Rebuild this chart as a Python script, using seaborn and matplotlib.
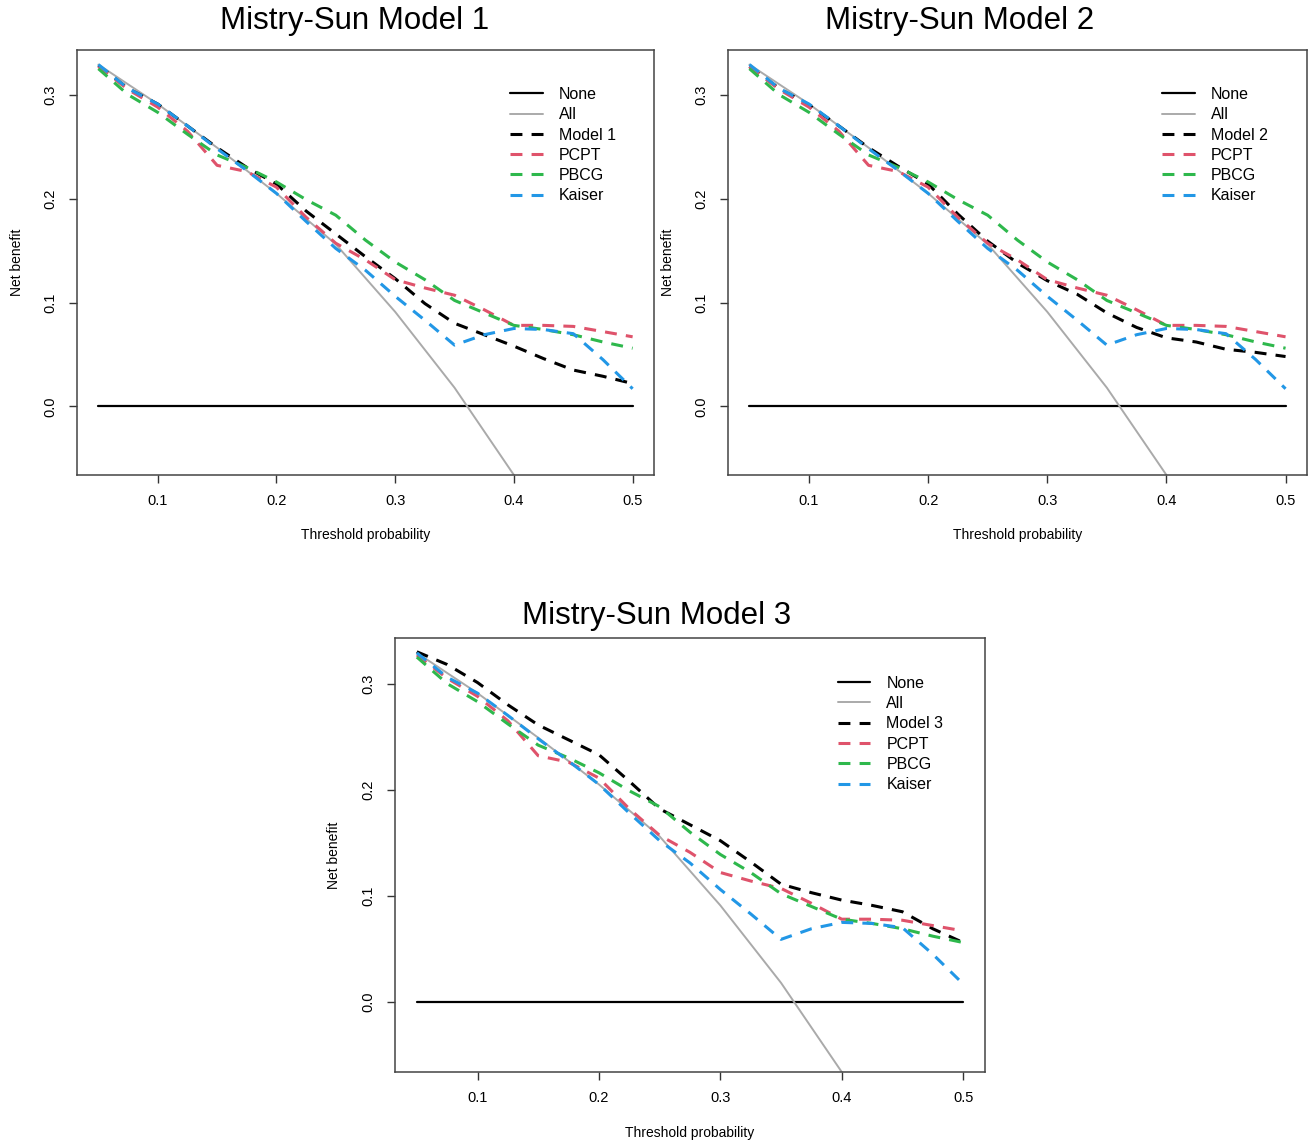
import matplotlib
matplotlib.use("Agg")
import matplotlib.pyplot as plt
import seaborn as sns

sns.set_style("ticks")
plt.rcParams["font.family"] = ["Liberation Sans", "DejaVu Sans"]
plt.rcParams["text.color"] = "black"
plt.rcParams["axes.labelcolor"] = "black"
plt.rcParams["xtick.color"] = "black"
plt.rcParams["ytick.color"] = "black"

# threshold grid used by the model curves
thresholds = [0.05, 0.075, 0.1, 0.125, 0.15, 0.175, 0.2, 0.225, 0.25, 0.275,
              0.3, 0.325, 0.35, 0.375, 0.4, 0.425, 0.45, 0.475, 0.5]
none_nb = [0.0] * len(thresholds)

# treat-all curve (coarser grid)
all_thresholds = [0.05, 0.1, 0.15, 0.2, 0.25, 0.3, 0.35, 0.4]
all_nb = [0.329, 0.291, 0.249, 0.205, 0.156, 0.091, 0.018, -0.066]

# comparison calculators (same in every panel)
pcpt_nb = [0.327, 0.305, 0.288, 0.265, 0.232, 0.226, 0.211, 0.182, 0.157, 0.141,
           0.122, 0.114, 0.107, 0.093, 0.078, 0.078, 0.077, 0.072, 0.067]
pbcg_nb = [0.325, 0.300, 0.283, 0.262, 0.242, 0.230, 0.216, 0.199, 0.184, 0.160,
           0.139, 0.122, 0.102, 0.090, 0.078, 0.074, 0.069, 0.062, 0.056]
kaiser_nb = [0.329, 0.306, 0.291, 0.270, 0.248, 0.227, 0.205, 0.178, 0.152, 0.131,
             0.106, 0.083, 0.059, 0.069, 0.075, 0.074, 0.070, 0.045, 0.017]

# Mistry-Sun models
model1_nb = [0.328, 0.306, 0.291, 0.270, 0.249, 0.230, 0.214, 0.188, 0.166, 0.144,
             0.123, 0.099, 0.080, 0.069, 0.058, 0.046, 0.035, 0.029, 0.022]
model2_nb = [0.327, 0.306, 0.290, 0.270, 0.249, 0.231, 0.214, 0.185, 0.159, 0.138,
             0.121, 0.108, 0.090, 0.076, 0.066, 0.062, 0.055, 0.052, 0.048]
model3_nb = [0.330, 0.318, 0.301, 0.280, 0.261, 0.247, 0.233, 0.208, 0.182, 0.167,
             0.152, 0.132, 0.111, 0.103, 0.096, 0.091, 0.085, 0.069, 0.056]

x_ticks = [0.1, 0.2, 0.3, 0.4, 0.5]
y_ticks = [0.0, 0.1, 0.2, 0.3]

W, H = 1313, 1144
fig = plt.figure(figsize=(W / 100, H / 100), dpi=100)

# panel boxes in pixels: left, right, top, bottom ; title centre ; name
panels = [
    ((77, 654, 50, 475), (355, 21), "Mistry-Sun Model 1", "Model 1", model1_nb),
    ((728, 1307, 50, 475), (960, 21), "Mistry-Sun Model 2", "Model 2", model2_nb),
    ((395, 985, 638, 1072), (657, 616), "Mistry-Sun Model 3", "Model 3", model3_nb),
]

pink = "#DF536B"
green = "#2EB84C"
blue = "#2297E6"
dash = (0, (3.9, 3.0))

for (l, r, t, b), (tx, ty), title, mname, mvals in panels:
    ax = fig.add_axes([l / W, 1 - b / H, (r - l) / W, (b - t) / H])
    sns.lineplot(x=thresholds, y=none_nb, color="black", linewidth=1.6, label="None", ax=ax)
    sns.lineplot(x=all_thresholds, y=all_nb, color="#aaaaaa", linewidth=1.4, label="All", ax=ax)
    sns.lineplot(x=thresholds, y=mvals, color="black", linewidth=2.2, linestyle=dash, label=mname, ax=ax)
    sns.lineplot(x=thresholds, y=pcpt_nb, color=pink, linewidth=2.2, linestyle=dash, label="PCPT", ax=ax)
    sns.lineplot(x=thresholds, y=pbcg_nb, color=green, linewidth=2.2, linestyle=dash, label="PBCG", ax=ax)
    sns.lineplot(x=thresholds, y=kaiser_nb, color=blue, linewidth=2.2, linestyle=dash, label="Kaiser", ax=ax)

    ax.set_xlim(0.032, 0.518)
    ax.set_ylim(-0.066, 0.343)
    ax.set_xticks(x_ticks)
    ax.set_xticklabels([f"{v:.1f}" for v in x_ticks])
    ax.set_yticks(y_ticks)
    ax.set_yticklabels([f"{v:.1f}" for v in y_ticks], rotation=90, va="center")
    ax.tick_params(direction="out", length=6, width=1, color="#333333",
                   labelsize=10.5, pad=8)
    for s in ax.spines.values():
        s.set_visible(True)
        s.set_color("#444444")
        s.set_linewidth(1.1)

    ax.set_xlabel("Threshold probability", fontsize=10)
    ax.set_ylabel("Net benefit", fontsize=10)
    ax.xaxis.set_label_coords(0.5, -0.14)
    ax.yaxis.set_label_coords(-0.104, 0.5)
    ax.xaxis.label.set_verticalalignment("center")
    ax.yaxis.label.set_verticalalignment("center")

    ax.legend(loc="upper left", bbox_to_anchor=(0.75, 0.913), frameon=False,
              fontsize=11.5, handlelength=2.06, handletextpad=1.0,
              labelspacing=0.33, borderpad=0, borderaxespad=0)

    fig.text(tx / W, 1 - ty / H, title, fontsize=22.5, ha="center", va="center")

fig.savefig("out.png", dpi=100)
